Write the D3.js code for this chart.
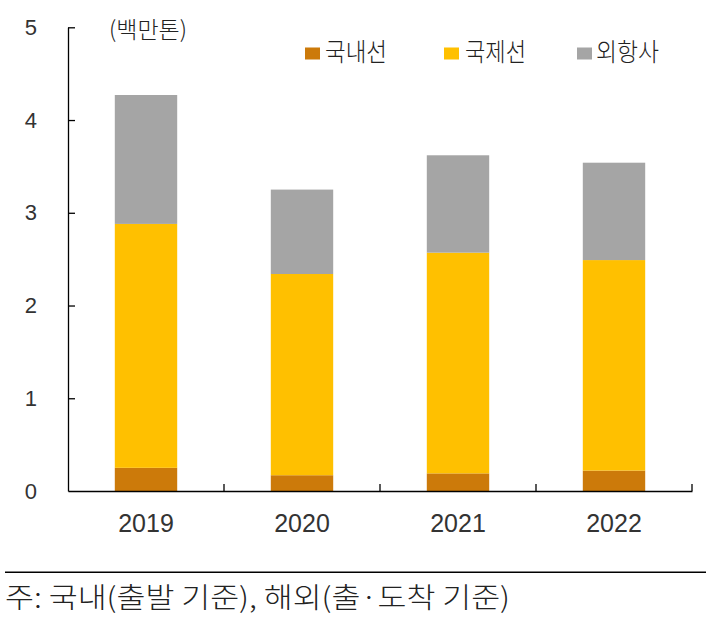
<!DOCTYPE html>
<html><head><meta charset="utf-8">
<script src="https://cdn.jsdelivr.net/npm/d3@7"></script>
<style>
html,body{margin:0;padding:0;background:#fff;}
svg{display:block;}
</style>
</head><body>
<svg id="chart" width="706" height="625"></svg>
<script>
const years = ["2019","2020","2021","2022"];
const seriesNames = ["국내선","국제선","외항사"];
const domestic = [0.25, 0.17, 0.19, 0.22];
const international = [2.63, 2.17, 2.38, 2.27];
const foreign = [1.39, 0.91, 1.05, 1.05];
const yTicks = [0,1,2,3,4,5];
const colors = ["#CC7A0A","#FFC000","#A5A5A5"];
const unitLabel = "(백만톤)";
const footnote = "주: 국내(출발 기준), 해외(출·도착 기준)";

const svg = d3.select("#chart");
const KR = "'Noto Sans CJK KR','Noto Sans',sans-serif";
const NUM = "'Liberation Sans',Arial,sans-serif";

const x = d3.scaleBand().domain(years).range([68, 692]).paddingInner(0.6).paddingOuter(0.3);
const y = d3.scaleLinear().domain([0,5]).range([491, 27.3]);

const rows = years.map((yr,i)=>({year:yr, "국내선":domestic[i], "국제선":international[i], "외항사":foreign[i]}));
const stack = d3.stack().keys(seriesNames)(rows);

svg.append("g").selectAll("g").data(stack).join("g")
  .attr("fill",(d,i)=>colors[i])
  .selectAll("rect").data(d=>d).join("rect")
  .attr("x",d=>x(d.data.year))
  .attr("width",x.bandwidth())
  .attr("y",d=>y(d[1]))
  .attr("height",d=>y(d[0])-y(d[1]));

// y axis
const yAxis = svg.append("g").attr("transform","translate(68,0)")
  .call(d3.axisLeft(y).tickValues(yTicks).tickFormat(d3.format("d")).tickSizeInner(-7).tickSizeOuter(0).tickPadding(31));
yAxis.select(".domain").attr("stroke","#000").attr("stroke-width",1.3);
yAxis.selectAll(".tick line").attr("stroke","#000").attr("stroke-width",1.3);
yAxis.selectAll(".tick text").attr("font-family",NUM).attr("font-size",22).attr("fill","#333").attr("text-anchor","end");
yAxis.selectAll(".tick").filter(d=>d===0).select("line").remove();

// x axis
const xAxis = svg.append("g").attr("transform","translate(0,491)")
  .call(d3.axisBottom(x).tickSize(0).tickPadding(23));
xAxis.select(".domain").attr("stroke","#000").attr("stroke-width",1.3);
xAxis.selectAll(".tick text").attr("font-family",NUM).attr("font-size",25).attr("fill","#333");
const boundaries = years.map((d,i)=>x.range()[0] + (i+1)*x.step());
xAxis.selectAll("line.bd").data(boundaries).join("line").attr("class","bd")
  .attr("x1",d=>d).attr("x2",d=>d).attr("y1",0).attr("y2",-7)
  .attr("stroke","#000").attr("stroke-width",1.3);

// unit label
svg.append("text").attr("x",109).attr("y",27.5).attr("dominant-baseline","central")
  .attr("font-family",KR).attr("font-weight",300).attr("font-size",23).attr("fill","#222")
  .attr("textLength",78).attr("lengthAdjust","spacingAndGlyphs").text(unitLabel);

// legend
const legendSq = [305, 444, 577];
const legendTx = [325, 465, 596];
const legendW = [62, 61, 63];
const lg = svg.append("g");
seriesNames.forEach((n,i)=>{
  lg.append("rect").attr("x",legendSq[i]).attr("y",47.5).attr("width",15).attr("height",12).attr("fill",colors[i]);
  lg.append("text").attr("x",legendTx[i]).attr("y",50).attr("dominant-baseline","central")
    .attr("font-family",KR).attr("font-weight",300).attr("font-size",25).attr("fill","#222")
    .attr("textLength",legendW[i]).attr("lengthAdjust","spacingAndGlyphs").text(n);
});

// footnote
svg.append("line").attr("x1",5).attr("x2",706).attr("y1",572.3).attr("y2",572.3).attr("stroke","#000").attr("stroke-width",1.5);
svg.append("text").attr("x",5).attr("y",596).attr("dominant-baseline","central")
  .attr("font-family",KR).attr("font-weight",300).attr("font-size",28).attr("fill","#222")
  .attr("textLength",505).attr("lengthAdjust","spacingAndGlyphs").text(footnote);
</script>
</body></html>
